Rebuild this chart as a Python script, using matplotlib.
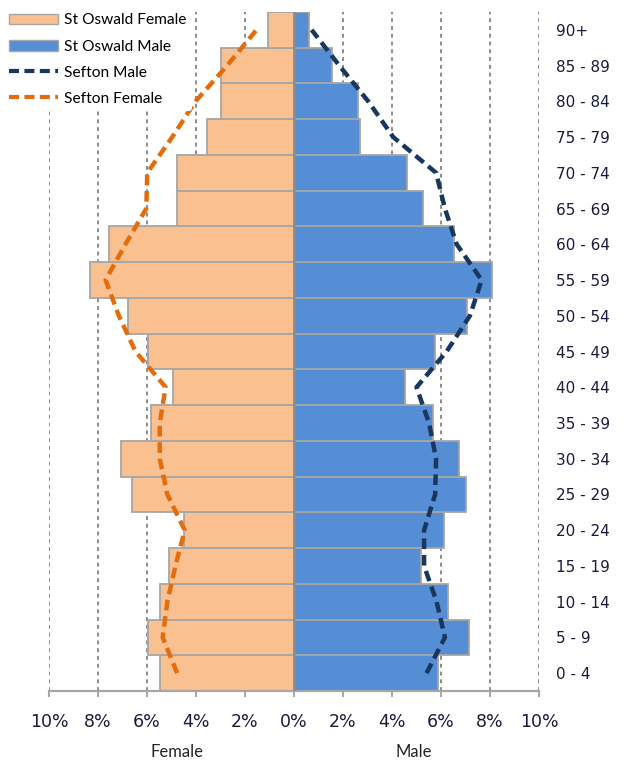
import matplotlib

matplotlib.use("Agg")

import matplotlib.pyplot as plt  # noqa: E402
import numpy as np  # noqa: E402
from matplotlib.lines import Line2D  # noqa: E402
from matplotlib.patches import Patch  # noqa: E402

# age bands, bottom to top
AGES = ["0 - 4", "5 - 9", "10 - 14", "15 - 19", "20 - 24", "25 - 29",
        "30 - 34", "35 - 39", "40 - 44", "45 - 49", "50 - 54", "55 - 59",
        "60 - 64", "65 - 69", "70 - 74", "75 - 79", "80 - 84", "85 - 89",
        "90+"]
# percentage of population in each band
ST_OSWALD_FEMALE = [5.48, 5.95, 5.48, 5.11, 4.50, 6.63, 7.05, 5.83, 4.93,
                    5.95, 6.78, 8.33, 7.56, 4.77, 4.77, 3.54, 2.97, 2.97, 1.05]
ST_OSWALD_MALE = [5.89, 7.16, 6.30, 5.18, 6.12, 7.02, 6.72, 5.66, 4.54,
                  5.77, 7.05, 8.08, 6.53, 5.28, 4.63, 2.69, 2.60, 1.54, 0.63]
SEFTON_FEMALE = [4.77, 5.36, 5.17, 4.84, 4.46, 5.17, 5.48, 5.48, 5.24,
                 6.47, 7.15, 7.69, 6.88, 6.03, 5.99, 4.97, 4.02, 2.73, 1.53]
SEFTON_MALE = [5.41, 6.16, 5.82, 5.31, 5.31, 5.76, 5.80, 5.51, 5.00,
               6.23, 7.18, 7.66, 6.64, 6.16, 5.80, 4.05, 3.03, 1.85, 0.72]
TICKS = [-10, -8, -6, -4, -2, 0, 2, 4, 6, 8, 10]
TICK_LABELS = ["10%", "8%", "6%", "4%", "2%", "0%", "2%", "4%", "6%", "8%", "10%"]

C_FEMALE = "#FAC090"
C_MALE = "#558ED5"
C_EDGE = "#A6A6A6"
C_SEF_M = "#17375E"
C_SEF_F = "#E46C0A"
W, H = 635, 763

fig = plt.figure(figsize=(W / 100, H / 100), dpi=100)
ax = fig.add_axes([49 / W, (H - 691) / H, (539 - 49) / W, (691 - 12) / H])

y = np.arange(len(AGES))
fem = -np.array(ST_OSWALD_FEMALE)
ax.barh(y, fem, height=1.0, color=C_FEMALE, edgecolor=C_EDGE, lw=1.3, zorder=2)
ax.barh(y, ST_OSWALD_MALE, height=1.0, color=C_MALE, edgecolor=C_EDGE,
        lw=1.3, zorder=2)
ax.axvline(0, color="#8C8C8C", lw=1.8, zorder=3)

dash = (0, (2.4, 1.3))
ax.plot(SEFTON_MALE, y, color=C_SEF_M, lw=3.2, ls=dash, zorder=4)
ax.plot(-np.array(SEFTON_FEMALE), y, color=C_SEF_F, lw=3.2, ls=dash, zorder=4)

for xg in TICKS:
    if xg != 0:
        ax.axvline(xg, color="#8C8C8C", lw=1.4, ls=(0, (2.0, 2.0)), zorder=1)

ax.set_xlim(-10, 10)
ax.set_ylim(-0.5, len(AGES) - 0.5)
ax.set_xticks(TICKS)
ax.set_xticklabels(TICK_LABELS, fontfamily="DejaVu Sans", fontsize=12.5,
                   color="#1A1A3A")
ax.tick_params(axis="x", length=4, width=1.4, color="#A6A6A6", pad=12)
ax.set_yticks(y)
ax.set_yticklabels(AGES, fontfamily="DejaVu Sans", fontsize=11,
                   color="#1A1A3A")
ax.yaxis.tick_right()
ax.tick_params(axis="y", length=0, pad=12)
for s in ["top", "left", "right"]:
    ax.spines[s].set_visible(False)
ax.spines["bottom"].set_color("#A6A6A6")
ax.spines["bottom"].set_linewidth(1.6)

fig.text(177 / W, 1 - 752 / H, "Female", ha="center", va="center",
         fontfamily="Lato", fontsize=12, color="#262626")
fig.text(414 / W, 1 - 752 / H, "Male", ha="center", va="center",
         fontfamily="Lato", fontsize=12, color="#262626")

handles = [
    Patch(facecolor=C_FEMALE, edgecolor=C_EDGE, lw=1.0, label="St Oswald Female"),
    Patch(facecolor=C_MALE, edgecolor=C_EDGE, lw=1.0, label="St Oswald Male"),
    Line2D([], [], color=C_SEF_M, lw=3.0, ls=dash, label="Sefton Male"),
    Line2D([], [], color=C_SEF_F, lw=3.0, ls=dash, label="Sefton Female"),
]
leg = fig.legend(handles=handles, loc="upper left",
                 bbox_to_anchor=(4 / W, 1 - 8 / H), frameon=True,
                 prop={"family": "Lato", "size": 11.2}, handlelength=3.1,
                 handletextpad=0.4, labelspacing=0.78, borderaxespad=0,
                 borderpad=0.35)
leg.get_frame().set_edgecolor("none")
leg.get_frame().set_facecolor("white")
leg.get_frame().set_alpha(1.0)
leg.set_zorder(10)

fig.savefig("out.png", dpi=100)
